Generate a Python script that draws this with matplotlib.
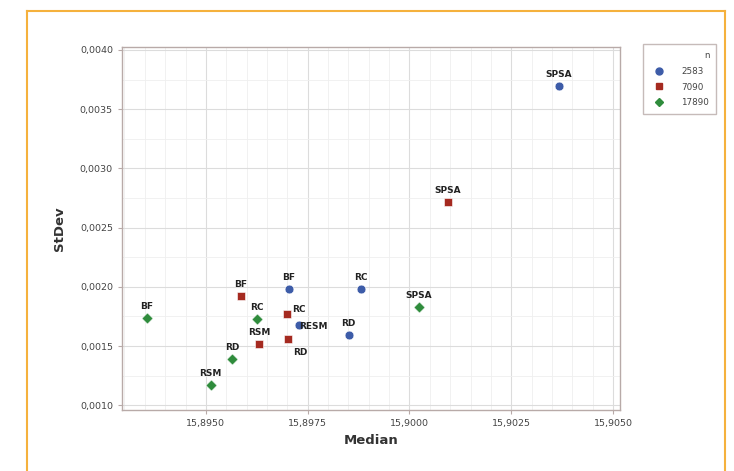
import matplotlib
matplotlib.use('Agg')
from matplotlib import pyplot as plt
from matplotlib.ticker import FuncFormatter, MultipleLocator
from matplotlib.lines import Line2D

# values
n_values = ['2583', '7090', '17890']

labels_2583 = ['SPSA', 'BF', 'RC', 'RD', 'RESM']
median_2583 = [15.90367, 15.89704, 15.89881, 15.89851, 15.89729]
stdev_2583 = [0.003696, 0.001980, 0.001980, 0.001593, 0.001677]

labels_7090 = ['SPSA', 'BF', 'RC', 'RSM', 'RD']
median_7090 = [15.90095, 15.89586, 15.89699, 15.89630, 15.89701]
stdev_7090 = [0.002716, 0.001922, 0.001770, 0.001517, 0.001559]

labels_17890 = ['SPSA', 'BF', 'RC', 'RD', 'RSM']
median_17890 = [15.90023, 15.89355, 15.89625, 15.89564, 15.89512]
stdev_17890 = [0.001829, 0.001736, 0.001728, 0.001390, 0.001171]

x_ticks = [15.8950, 15.8975, 15.9000, 15.9025, 15.9050]
y_ticks = [0.0010, 0.0015, 0.0020, 0.0025, 0.0030, 0.0035, 0.0040]

colors = ['#3d5ca8', '#a52a20', '#2f8c3c']
markers = ['o', 's', 'D']
sizes = [40, 40, 32]

# label offsets (points) for the few labels not placed above their marker
offsets = {('7090', 'RC'): (4, 3, 'left', 'center'),
           ('2583', 'RESM'): (0, -1, 'left', 'center'),
           ('7090', 'RD'): (4, -10, 'left', 'center')}

fig = plt.figure(figsize=(7.34, 4.71), dpi=100)
ax = fig.add_axes([0.1662, 0.1295, 0.6785, 0.7707])

series = [(labels_2583, median_2583, stdev_2583),
          (labels_7090, median_7090, stdev_7090),
          (labels_17890, median_17890, stdev_17890)]

for i, (labs, xs, ys) in enumerate(series):
    ax.scatter(xs, ys, c=colors[i], marker=markers[i], s=sizes[i],
               edgecolors='white', linewidths=0.4, zorder=3)
    for lab, x, y in zip(labs, xs, ys):
        key = (n_values[i], lab)
        if key in offsets:
            dx, dy, ha, va = offsets[key]
        else:
            dx, dy, ha, va = (0, 5, 'center', 'bottom')
        ax.annotate(lab, (x, y), xytext=(dx, dy), textcoords='offset points',
                    ha=ha, va=va, fontsize=6.5, fontweight='bold',
                    color='#222222', zorder=4)

ax.set_xlim(15.89294, 15.90517)
ax.set_ylim(0.00096, 0.004025)
ax.set_xticks(x_ticks)
ax.set_yticks(y_ticks)
ax.xaxis.set_minor_locator(MultipleLocator(0.0005))
ax.yaxis.set_minor_locator(MultipleLocator(0.00025))

comma = lambda v, d: ('%.' + str(d) + 'f') % v
ax.xaxis.set_major_formatter(FuncFormatter(lambda v, p: comma(v, 4).replace('.', ',')))
ax.yaxis.set_major_formatter(FuncFormatter(lambda v, p: comma(v, 4).replace('.', ',')))

ax.grid(True, which='major', color='#dcdcdc', linewidth=0.8, zorder=0)
ax.grid(True, which='minor', color='#efefef', linewidth=0.6, zorder=0)
ax.set_axisbelow(True)
for s in ax.spines.values():
    s.set_color('#b8aaa8')
    s.set_linewidth(1.0)
ax.tick_params(which='major', labelsize=6.8, colors='#b8aaa8', labelcolor='#444444',
               length=3, width=0.8)
ax.tick_params(which='minor', length=0)

ax.set_xlabel('Median', fontsize=9.5, fontweight='bold', color='#333333', labelpad=4)
ax.set_ylabel('StDev', fontsize=9.5, fontweight='bold', color='#333333', labelpad=10)

handles = [Line2D([], [], linestyle='none', marker=markers[i], color=colors[i],
                  markersize=5 if markers[i] != 'D' else 4.5) for i in range(3)]
leg = fig.legend(handles, n_values, title='n', loc='upper left',
                 bbox_to_anchor=(0.870, 0.915), fontsize=6.3, title_fontsize=6.3,
                 frameon=True, fancybox=False, handletextpad=1.6,
                 borderpad=0.8, labelspacing=0.75, markerfirst=True,
                 alignment='right')
leg.get_frame().set_edgecolor('#b8aaa8')
leg.get_frame().set_linewidth(1.0)
for t in leg.get_texts():
    t.set_color('#444444')
leg.get_title().set_color('#444444')

# orange frame around the picture
frame_kw = dict(color='#f5b13d', linewidth=1.5, transform=fig.transFigure)
fig.add_artist(Line2D([27 / 734, 27 / 734], [0, 1 - 11 / 471], **frame_kw))
fig.add_artist(Line2D([27 / 734, 725 / 734], [1 - 11 / 471, 1 - 11 / 471], **frame_kw))
fig.add_artist(Line2D([725 / 734, 725 / 734], [0, 1 - 11 / 471], **frame_kw))

fig.savefig('out.png', dpi=100)
